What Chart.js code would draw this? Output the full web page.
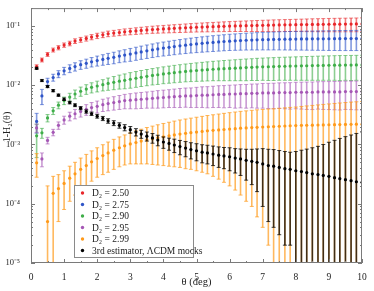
<!DOCTYPE html>
<html>
<head>
<meta charset="utf-8">
<script src="https://cdn.jsdelivr.net/npm/chart.js@4"></script>
<style>
html, body { margin: 0; padding: 0; background: #fff; }
</style>
</head>
<body>
<canvas id="chart" width="374" height="291"></canvas>
<script>
// angular scale, deg
const theta = [0.17,0.33,0.5,0.67,0.83,1,1.17,1.33,1.5,1.67,1.83,2,2.17,2.33,2.5,2.67,2.83,3,3.17,3.33,3.5,3.67,3.83,4,4.17,4.33,4.5,4.67,4.83,5,5.17,5.33,5.5,5.67,5.83,6,6.17,6.33,6.5,6.67,6.83,7,7.17,7.33,7.5,7.67,7.83,8,8.17,8.33,8.5,8.67,8.83,9,9.17,9.33,9.5,9.67,9.83,10];

const seriesLabels = ["D₂ = 2.50", "D₂ = 2.75", "D₂ = 2.90", "D₂ = 2.95", "D₂ = 2.99", "3rd estimator, ΛCDM mocks"];

const d250 = [0.0206,0.0267,0.0331,0.0393,0.043,0.0476,0.0507,0.0556,0.0585,0.0615,0.0649,0.0682,0.0709,0.0738,0.0757,0.0775,0.0796,
  0.081,0.0825,0.084,0.0855,0.087,0.088,0.089,0.090,0.091,0.092,0.093,0.094,0.095,0.0958,0.0965,0.0972,0.098,0.0987,0.0994,0.1,0.1005,0.101,0.1015,0.102,0.1025,0.103,0.1035,0.104,0.1043,0.1046,0.105,0.1053,0.1056,0.106,0.1062,0.1065,0.1068,0.107,0.1072,0.1075,0.1077,0.108,0.1082];
const e250 = [0.0015,0.002,0.0025,0.003,0.0035,0.004,0.0045,0.005,0.0055,0.006,0.0065,0.007,0.0075,0.008,0.0085,0.009,0.0095,0.010,0.0105,0.011,0.0115,0.012,0.0125,0.013,0.0135,0.014,0.0145,0.015,0.0155,0.016,0.0165,0.017,0.0175,0.018,0.0185,0.019,0.0195,0.020,0.0205,0.021,0.0215,0.022,0.0225,0.023,0.0233,0.0236,0.024,0.0245,0.025,0.0255,0.026,0.0263,0.0266,0.027,0.0273,0.0276,0.0278,0.028,0.0282,0.0285];

const d275 = [0.00245,0.0066,0.0115,0.0135,0.0155,0.0175,0.0192,0.0206,0.0222,0.0234,0.0248,0.026,0.0272,0.0284,0.0295,0.031,0.0322,
  0.0335,0.035,0.0365,0.038,0.0395,0.041,0.0423,0.0436,0.0449,0.0462,0.0474,0.0486,0.0497,0.0508,0.0518,0.0528,0.0537,0.0546,0.0554,0.0561,0.0567,0.0573,0.0578,0.0582,0.0586,0.0589,0.0592,0.0595,0.0597,0.0599,0.0601,0.0603,0.0604,0.0605,0.0606,0.0607,0.0608,0.0609,0.061,0.0611,0.0612,0.0613,0.0614];
const e275 = [0.0009,0.0019,0.0016,0.0018,0.0021,0.0025,0.0029,0.0033,0.0037,0.0041,0.0045,0.005,0.0055,0.006,0.0065,0.007,0.0075,0.0082,0.0087,0.0092,0.0097,0.0102,0.0107,0.0112,0.0117,0.0122,0.0127,0.0132,0.0137,0.0142,0.0147,0.0152,0.0157,0.0161,0.0165,0.0169,0.0173,0.0177,0.0181,0.0185,0.0189,0.0192,0.0195,0.0198,0.0201,0.0204,0.0207,0.021,0.0212,0.0214,0.0216,0.0218,0.022,0.0222,0.0224,0.0226,0.0227,0.0228,0.0229,0.023];

const d290 = [0.0014,0.00157,0.0028,0.0037,0.0046,0.0055,0.0063,0.0071,0.0079,0.0086,0.0092,0.0097,0.0102,0.0107,0.0112,0.0117,0.0121,
  0.0126,0.0131,0.0136,0.0141,0.0146,0.015,0.0155,0.0159,0.0163,0.0167,0.0171,0.0174,0.0177,0.018,0.0183,0.0186,0.0188,0.019,0.0192,0.0194,0.0196,0.0198,0.02,0.0202,0.0204,0.0205,0.0206,0.0208,0.0209,0.021,0.0211,0.0212,0.0213,0.0214,0.0215,0.0216,0.0217,0.0218,0.0218,0.0219,0.0219,0.022,0.022];
const e290 = [0.0008,0.0003,0.0004,0.0005,0.0006,0.0008,0.001,0.0012,0.0014,0.0016,0.0018,0.002,0.0022,0.0025,0.0028,0.0031,0.0034,0.0037,0.0039,0.0041,0.0043,0.0045,0.0047,0.0049,0.0051,0.0053,0.0055,0.0057,0.0059,0.0061,0.0063,0.0065,0.0067,0.0069,0.0071,0.0073,0.0075,0.0077,0.0079,0.008,0.0082,0.0083,0.0085,0.0086,0.0087,0.0088,0.0089,0.009,0.0091,0.0092,0.0093,0.0094,0.0095,0.0096,0.0097,0.0098,0.0098,0.0099,0.0099,0.01];

const d295 = [0.0019,0.00057,0.00117,0.0016,0.0021,0.0026,0.003,0.0033,0.0036,0.0039,0.0042,0.0044,0.0047,0.0049,0.0051,0.0053,0.0055,
  0.0056,0.0057,0.0058,0.0059,0.006,0.0061,0.0062,0.0063,0.0064,0.0065,0.0066,0.0066,0.0067,0.0068,0.0068,0.0069,0.007,0.007,0.0071,0.0071,0.0072,0.0072,0.0073,0.0073,0.0074,0.0074,0.0074,0.0075,0.0075,0.0075,0.0076,0.0076,0.0076,0.0076,0.0077,0.0077,0.0077,0.0077,0.0077,0.0078,0.0078,0.0078,0.0078];
const e295 = [0.0003,0.00015,0.00015,0.0002,0.0003,0.0004,0.0005,0.0006,0.0007,0.0008,0.0009,0.001,0.0011,0.0012,0.0013,0.0014,0.0015,0.0016,0.0017,0.00175,0.0018,0.0019,0.002,0.00205,0.0021,0.0022,0.0023,0.00235,0.0024,0.0025,0.0026,0.00265,0.0027,0.0028,0.00285,0.0029,0.003,0.00305,0.0031,0.00315,0.0032,0.0033,0.00335,0.0034,0.00345,0.0035,0.00355,0.0036,0.00365,0.0037,0.00372,0.00375,0.0038,0.00382,0.00385,0.00388,0.0039,0.00393,0.00396,0.004];

const d299 = [0.00049,null,0.00005,0.00015,0.00018,0.00022,0.00027,0.00032,0.00038,0.00044,0.00051,0.00058,0.00065,0.00072,0.0008,0.00088,0.00095,
  0.00102,0.00108,0.00114,0.0012,0.00125,0.0013,0.00135,0.0014,0.00145,0.0015,0.00154,0.00158,0.00162,0.00166,0.0017,0.00173,0.00176,0.00179,0.00182,0.00185,0.00188,0.0019,0.00193,0.00195,0.00197,0.00199,0.00201,0.00203,0.00205,0.00207,0.00208,0.0021,0.00211,0.00212,0.00213,0.00214,0.00215,0.00216,0.00217,0.00218,0.00219,0.0022,0.0022];
const e299 = [0.00021,0,0.00015,0.00014,0.00013,0.00014,0.00016,0.00018,0.00021,0.00024,0.00027,0.0003,0.00034,0.00038,0.00042,0.00046,0.0005,0.00055,0.00061,0.00067,0.00073,0.00079,0.00085,0.00091,0.00097,0.00103,0.00109,0.00115,0.0012,0.00126,0.00132,0.00138,0.00144,0.0015,0.00156,0.00162,0.00168,0.00174,0.00179,0.00184,0.00189,0.00193,0.00197,0.002,0.00205,0.0021,0.00215,0.0022,0.00228,0.00236,0.00244,0.00252,0.0026,0.00268,0.00276,0.00284,0.00292,0.003,0.00305,0.0031];

const dLcdm = [0.0193,0.012,0.0095,0.0081,0.0068,0.0058,0.0051,0.0046,0.0041,0.0036,0.0033,0.003,0.00275,0.0025,0.0023,0.0021,0.00193,0.00178,0.00162,0.0015,0.00138,0.00129,0.00119,0.0011,0.00104,0.00098,0.00092,0.00087,0.00082,0.00078,0.00074,0.00072,0.00069,0.00066,0.00064,0.00062,0.00059,0.00057,0.00054,0.00052,0.0005,0.00047,0.00044,0.00043,0.00041,0.00039,0.00038,0.00036,0.00035,0.000335,0.00032,0.00031,0.0003,0.00029,0.000275,0.000265,0.000255,0.000245,0.000235,0.00023];
const eLcdm = [0.0008,0.0005,0.0004,0.00035,0.0003,0.00028,0.00026,0.00025,0.00024,0.00023,0.00022,0.00022,0.00022,0.00022,0.00022,0.00022,0.00023,0.00023,0.00023,0.00023,0.00024,0.00024,0.00024,0.00024,0.00024,0.00025,0.00025,0.00025,0.00025,0.00025,0.00025,0.00025,0.00025,0.00025,0.00025,0.00026,0.00026,0.00027,0.00029,0.00031,0.00034,0.00038,0.00039,0.00039,0.00038,0.00037,0.00036,0.0004,0.00045,0.0005,0.00056,0.00062,0.0007,0.0008,0.0009,0.001,0.0011,0.0012,0.0013,0.0014];

const xTicks = [0,1,2,3,4,5,6,7,8,9,10];
const yTicks = [1e-5,1e-4,1e-3,1e-2,1e-1];
const yTickLabels = ["10⁻⁵","10⁻⁴","10⁻³","10⁻²","10⁻¹"];
const yTitle = "1-H₂(θ)";

const colors = ["#e8262a", "#2f55c8", "#3fae49", "#a557b5", "#ff9a1a", "#000000"];
const barColors = ["rgba(232,38,42,0.6)", "rgba(47,85,200,0.6)", "rgba(63,174,73,0.6)", "rgba(165,87,181,0.6)", "rgba(255,154,26,0.7)", "rgba(0,0,0,0.75)"];

const FONT = "'Liberation Serif', 'Times New Roman', serif";

function points(vals, errs) {
  const out = [];
  theta.forEach((t, i) => {
    if (vals[i] != null) out.push({x: t, y: vals[i], err: errs[i]});
  });
  return out;
}

const allVals = [d250, d275, d290, d295, d299, dLcdm];
const allErrs = [e250, e275, e290, e295, e299, eLcdm];

const datasets = allVals.map((v, i) => ({
  label: seriesLabels[i],
  data: points(v, allErrs[i]),
  backgroundColor: colors[i],
  borderColor: colors[i],
  barColor: barColors[i],
  pointRadius: 1.6,
  pointBorderWidth: 0,
  showLine: false,
  order: 6 - i
}));

// vertical error bars, drawn under each dataset's points
const errorBars = {
  id: "errorBars",
  beforeDatasetDraw(chart, args) {
    const ds = chart.data.datasets[args.index];
    const {ctx, chartArea: a} = chart;
    const x = chart.scales.x, y = chart.scales.y;
    ctx.save();
    ctx.beginPath();
    ctx.rect(a.left, a.top, a.right - a.left, a.bottom - a.top);
    ctx.clip();
    ctx.strokeStyle = ds.barColor;
    ds.data.forEach(p => {
      if (!p.err) return;
      const px = x.getPixelForValue(p.x);
      const lo = p.y - p.err;
      const yTop = y.getPixelForValue(p.y + p.err);
      const yBot = lo > 0 ? y.getPixelForValue(lo) : a.bottom + 5;
      ctx.lineWidth = 1.6;
      ctx.beginPath();
      ctx.moveTo(px, yTop);
      ctx.lineTo(px, yBot);
      ctx.stroke();
      ctx.lineWidth = 1;
      ctx.beginPath();
      ctx.moveTo(px - 2, yTop);
      ctx.lineTo(px + 2, yTop);
      if (lo > 0) {
        ctx.moveTo(px - 2, yBot);
        ctx.lineTo(px + 2, yBot);
      }
      ctx.stroke();
    });
    ctx.restore();
  }
};

// box frame with inward ticks on all four sides, plus the y title
const frame = {
  id: "frame",
  afterDatasetsDraw(chart) {
    const {ctx, chartArea: a} = chart;
    const x = chart.scales.x, y = chart.scales.y;
    ctx.save();
    ctx.strokeStyle = "#7a7a7a";
    ctx.lineWidth = 1;
    ctx.strokeRect(a.left + 0.5, a.top + 0.5, a.right - a.left - 1, a.bottom - a.top - 1);
    ctx.beginPath();
    for (let v = 0; v <= 10; v += 0.5) {
      const px = Math.round(x.getPixelForValue(v)) + 0.5;
      const len = Number.isInteger(v) ? 4 : 2;
      ctx.moveTo(px, a.bottom); ctx.lineTo(px, a.bottom - len);
      ctx.moveTo(px, a.top); ctx.lineTo(px, a.top + len);
    }
    yTicks.forEach(t => {
      for (let m = 1; m <= 9; m++) {
        const v = t * m;
        if (v > y.max) break;
        const py = Math.round(y.getPixelForValue(v)) + 0.5;
        const len = m === 1 ? 4 : 2;
        ctx.moveTo(a.left, py); ctx.lineTo(a.left + len, py);
        ctx.moveTo(a.right, py); ctx.lineTo(a.right - len, py);
      }
    });
    ctx.stroke();

    ctx.translate(7, 127);
    ctx.rotate(-Math.PI / 2);
    ctx.fillStyle = "#222";
    ctx.font = "10px " + FONT;
    ctx.textAlign = "center";
    ctx.textBaseline = "middle";
    ctx.fillText(yTitle, 0, 0);
    ctx.restore();
  }
};

// legend box inside the plot, lower left
const legendBox = {
  id: "legendBox",
  afterDraw(chart) {
    const ctx = chart.ctx;
    const bx = 74, by = 185, bw = 119, bh = 72;
    ctx.save();
    ctx.fillStyle = "#fff";
    ctx.fillRect(bx, by, bw, bh);
    ctx.strokeStyle = "#8a8a8a";
    ctx.lineWidth = 1;
    ctx.strokeRect(bx + 0.5, by + 0.5, bw, bh);
    ctx.font = "9.5px " + FONT;
    ctx.textBaseline = "middle";
    chart.data.datasets.forEach((ds, i) => {
      const ry = by + 8 + i * 11.5;
      ctx.fillStyle = ds.backgroundColor;
      ctx.beginPath();
      ctx.arc(bx + 8.5, ry, 1.7, 0, Math.PI * 2);
      ctx.fill();
      ctx.fillStyle = "#222";
      ctx.fillText(ds.label, bx + 18, ry + 0.5);
    });
    ctx.restore();
  }
};

new Chart(document.getElementById("chart"), {
  type: "scatter",
  data: { datasets: datasets },
  options: {
    responsive: false,
    animation: false,
    devicePixelRatio: 1,
    layout: { padding: { top: 6, right: 12, left: 0, bottom: 2 } },
    plugins: { legend: { display: false }, tooltip: { enabled: false } },
    scales: {
      x: {
        type: "linear",
        min: 0,
        max: 10,
        afterBuildTicks: s => { s.ticks = xTicks.map(v => ({value: v})); },
        afterFit: s => { s.height = 26; },
        grid: { display: false },
        border: { display: false },
        ticks: { color: "#222", font: { family: FONT, size: 9.5 }, padding: 1, maxRotation: 0 },
        title: { display: true, text: "θ (deg)", color: "#222", font: { family: FONT, size: 10.5 }, padding: { top: 0, bottom: 0 } }
      },
      y: {
        type: "logarithmic",
        min: 1e-5,
        max: 0.2,
        afterBuildTicks: s => { s.ticks = yTicks.map(v => ({value: v, major: true})); },
        afterFit: s => { s.width = 31; },
        grid: { display: false },
        border: { display: false },
        ticks: {
          color: "#222",
          font: { family: FONT, size: 8.5 },
          padding: 3,
          callback: (value, index) => yTickLabels[index]
        }
      }
    }
  },
  plugins: [errorBars, frame, legendBox]
});
</script>
</body>
</html>
